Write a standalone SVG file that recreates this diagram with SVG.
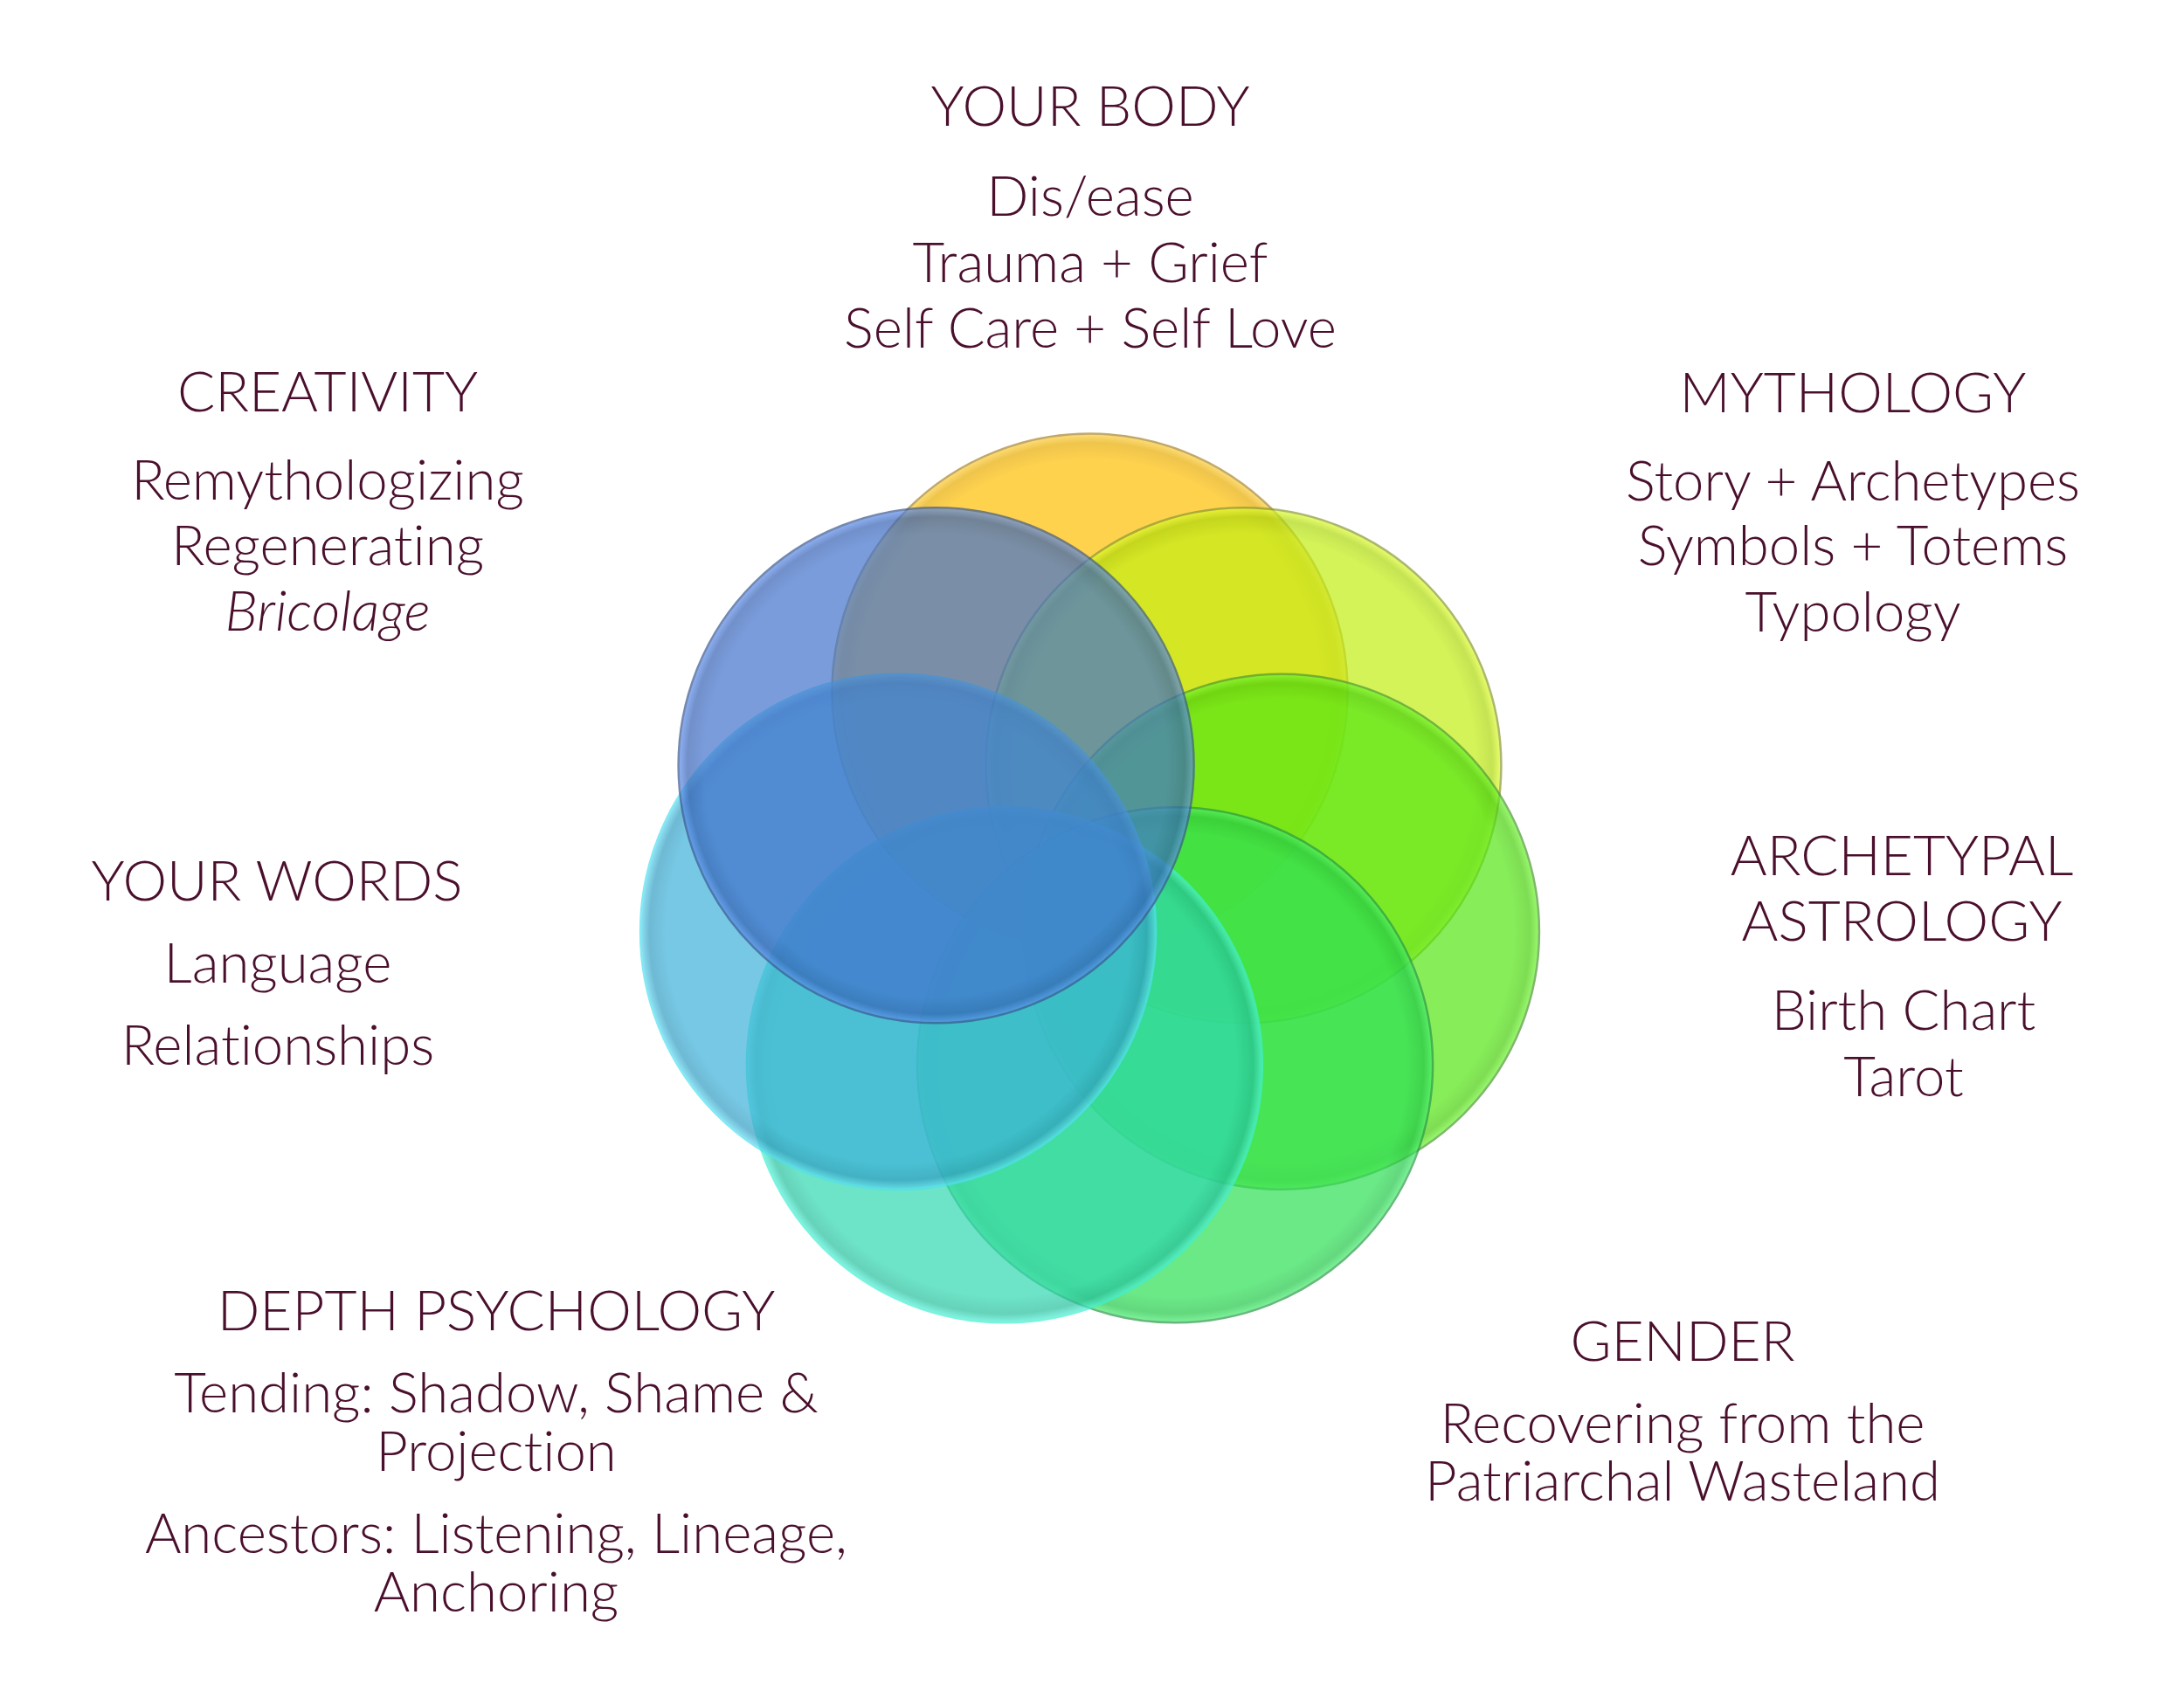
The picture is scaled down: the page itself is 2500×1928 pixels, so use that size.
<svg xmlns="http://www.w3.org/2000/svg" width="2500" height="1928" viewBox="0 0 2500 1928">
<style>
.t{font-family:Lato,"Open Sans","Liberation Sans",sans-serif;font-weight:300;fill:#4a0f2c;text-anchor:middle;font-variant-ligatures:none;font-feature-settings:"liga" 0,"clig" 0}
.h{font-size:64px}
.b{font-size:63.5px}
.i{font-style:italic}
.c{opacity:0.7;stroke-width:2.5}
</style>
<defs>
<radialGradient id="gY"><stop offset="0" stop-color="#FFBF04"/><stop offset="0.9" stop-color="#FFBF04"/><stop offset="0.965" stop-color="#E8AC00"/><stop offset="1" stop-color="#FFD040"/></radialGradient>
<radialGradient id="gYG"><stop offset="0" stop-color="#C2EF13"/><stop offset="0.9" stop-color="#C2EF13"/><stop offset="0.965" stop-color="#ADD80A"/><stop offset="1" stop-color="#E2FF30"/></radialGradient>
<radialGradient id="gG"><stop offset="0" stop-color="#55E713"/><stop offset="0.9" stop-color="#55E713"/><stop offset="0.965" stop-color="#48CF0C"/><stop offset="1" stop-color="#70F830"/></radialGradient>
<radialGradient id="gGB"><stop offset="0" stop-color="#2DE055"/><stop offset="0.9" stop-color="#2DE055"/><stop offset="0.965" stop-color="#22C848"/><stop offset="1" stop-color="#48F070"/></radialGradient>
<radialGradient id="gT"><stop offset="0" stop-color="#30D8B0"/><stop offset="0.9" stop-color="#30D8B0"/><stop offset="0.965" stop-color="#25C09C"/><stop offset="1" stop-color="#50F0D8"/></radialGradient>
<radialGradient id="gLB"><stop offset="0" stop-color="#3DB2DA"/><stop offset="0.9" stop-color="#3DB2DA"/><stop offset="0.965" stop-color="#329CC2"/><stop offset="1" stop-color="#60D8F0"/></radialGradient>
<radialGradient id="gB"><stop offset="0" stop-color="#4273CD"/><stop offset="0.9" stop-color="#4273CD"/><stop offset="0.965" stop-color="#3662B5"/><stop offset="1" stop-color="#6090F0"/></radialGradient>
</defs>
<rect width="2500" height="1928" fill="#ffffff"/>
<g id="circles">
<circle id="c-body" class="c" cx="1247.5" cy="791.6" r="295" fill="url(#gY)" stroke="#A8862A"/>
<circle id="c-mythology" class="c" cx="1423.4" cy="876.3" r="295" fill="url(#gYG)" stroke="#8A9A30"/>
<circle id="c-astrology" class="c" cx="1466.9" cy="1066.7" r="295" fill="url(#gG)" stroke="#4A9A30"/>
<circle id="c-gender" class="c" cx="1345.1" cy="1219.3" r="295" fill="url(#gGB)" stroke="#2A9A48"/>
<circle id="c-depth" class="c" cx="1149.9" cy="1219.3" r="295" fill="url(#gT)" stroke="#40F0D0"/>
<circle id="c-words" class="c" cx="1028.1" cy="1066.7" r="295" fill="url(#gLB)" stroke="#50E0F0"/>
<circle id="c-creativity" class="c" cx="1071.6" cy="876.3" r="295" fill="url(#gB)" stroke="#3A5890"/>
</g>
<g id="connectors"></g>
<g id="n-body">
<text class="t h" x="1248" y="144">YOUR BODY</text>
<text class="t b" x="1248" y="247">Dis/ease</text>
<text class="t b" x="1248" y="323">Trauma + Grief</text>
<text class="t b" x="1248" y="398">Self Care + Self Love</text>
</g>
<g id="n-creativity">
<text class="t h" x="375" y="471">CREATIVITY</text>
<text class="t b" x="375" y="572">Remythologizing</text>
<text class="t b" x="375" y="647">Regenerating</text>
<text class="t b i" x="375" y="722">Bricolage</text>
</g>
<g id="n-mythology">
<text class="t h" x="2121" y="472">MYTHOLOGY</text>
<text class="t b" x="2121" y="573">Story + Archetypes</text>
<text class="t b" x="2121" y="647">Symbols + Totems</text>
<text class="t b" x="2121" y="723">Typology</text>
</g>
<g id="n-words">
<text class="t h" x="317" y="1031">YOUR WORDS</text>
<text class="t b" x="318" y="1125">Language</text>
<text class="t b" x="318" y="1219">Relationships</text>
</g>
<g id="n-astrology">
<text class="t h" x="2177" y="1002">ARCHETYPAL</text>
<text class="t h" x="2177" y="1077">ASTROLOGY</text>
<text class="t b" x="2179" y="1179">Birth Chart</text>
<text class="t b" x="2179" y="1255">Tarot</text>
</g>
<g id="n-depth">
<text class="t h" x="568" y="1523">DEPTH PSYCHOLOGY</text>
<text class="t b" x="568" y="1617">Tending: Shadow, Shame &amp;</text>
<text class="t b" x="568" y="1684">Projection</text>
<text class="t b" x="568" y="1778">Ancestors: Listening, Lineage,</text>
<text class="t b" x="568" y="1845">Anchoring</text>
</g>
<g id="n-gender">
<text class="t h" x="1926" y="1558">GENDER</text>
<text class="t b" x="1926" y="1652">Recovering from the</text>
<text class="t b" x="1926" y="1718">Patriarchal Wasteland</text>
</g>
</svg>
